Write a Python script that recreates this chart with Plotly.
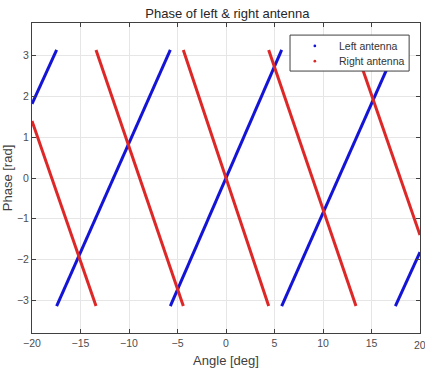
import plotly.graph_objects as go

# Segment endpoints (None separates wrapped segments)
left_angle = [-20, -17.46, None, -17.46, -5.74, None, -5.74, 5.74, None, 5.74, 17.46, None, 17.46, 20]
left_phase = [1.82, 3.14, None, -3.14, 3.14, None, -3.14, 3.14, None, -3.14, 3.14, None, -3.14, -1.82]

right_angle = [-20, -13.4, None, -13.4, -4.4, None, -4.4, 4.4, None, 4.4, 13.4, None, 13.4, 20]
right_phase = [1.40, -3.14, None, 3.14, -3.14, None, 3.14, -3.14, None, 3.14, -3.14, None, 3.14, -1.40]

x_ticks = [-20, -15, -10, -5, 0, 5, 10, 15, 20]
y_ticks = [-3, -2, -1, 0, 1, 2, 3]
series_names = ["Left antenna", "Right antenna"]

BLUE = "#1414d6"
RED = "#de2828"
FONT = "Liberation Sans, Arial, sans-serif"
TICKFONT = dict(family=FONT, size=10.5, color="#4d4d4d")

fig = go.Figure()
fig.add_trace(go.Scatter(x=left_angle, y=left_phase, mode="lines", name=series_names[0],
                         line=dict(color=BLUE, width=3), showlegend=False, hoverinfo="skip"))
fig.add_trace(go.Scatter(x=right_angle, y=right_phase, mode="lines", name=series_names[1],
                         line=dict(color=RED, width=3), showlegend=False, hoverinfo="skip"))

axis_common = dict(showline=True, linecolor="#404040", linewidth=1, mirror="ticks",
                   ticks="inside", ticklen=4, tickcolor="#404040",
                   showgrid=True, gridcolor="#e6e6e6", gridwidth=1, zeroline=False,
                   tickfont=TICKFONT)

# Manual legend box (MATLAB style) in paper coordinates
shapes = [dict(type="rect", xref="paper", yref="paper", x0=0.665, x1=0.972, y0=0.845, y1=0.961,
               line=dict(color="#404040", width=1), fillcolor="white", layer="above")]
annotations = []
for i, (name, col) in enumerate(zip(series_names, [BLUE, RED])):
    yy = 0.926 - i * 0.049
    shapes.append(dict(type="circle", xref="paper", yref="paper", layer="above",
                       x0=0.729 - 0.0035, x1=0.729 + 0.0035, y0=yy - 0.0045, y1=yy + 0.0045,
                       fillcolor=col, line=dict(color=col, width=0)))
    annotations.append(dict(text=name, xref="paper", yref="paper", x=0.787, y=yy,
                            xanchor="left", yanchor="middle", showarrow=False,
                            font=dict(family=FONT, size=10.5, color="#333333")))
# last x tick label, partly clipped at the right edge as in the reference
annotations.append(dict(text="20", xref="x", yref="paper", x=20, y=0, yshift=-4,
                        xanchor="center", yanchor="top", showarrow=False, font=TICKFONT))

fig.update_layout(
    width=425, height=373,
    margin=dict(l=32, r=5, t=23, b=40),
    paper_bgcolor="white", plot_bgcolor="white",
    showlegend=False,
    title=dict(text="Phase of left & right antenna", x=0.535, xanchor="center",
               y=0.963, yanchor="middle",
               font=dict(family=FONT, size=13, color="#262626")),
    xaxis=dict(range=[-20, 20], tickvals=x_ticks,
               title=dict(text="Angle [deg]", standoff=8,
                          font=dict(family=FONT, size=13, color="#404040")),
               **axis_common),
    yaxis=dict(range=[-3.8, 3.8], tickvals=y_ticks,
               title=dict(text="Phase [rad]", standoff=3,
                          font=dict(family=FONT, size=13, color="#404040")),
               **axis_common),
    shapes=shapes,
    annotations=annotations,
)

fig.write_html("out.html")
